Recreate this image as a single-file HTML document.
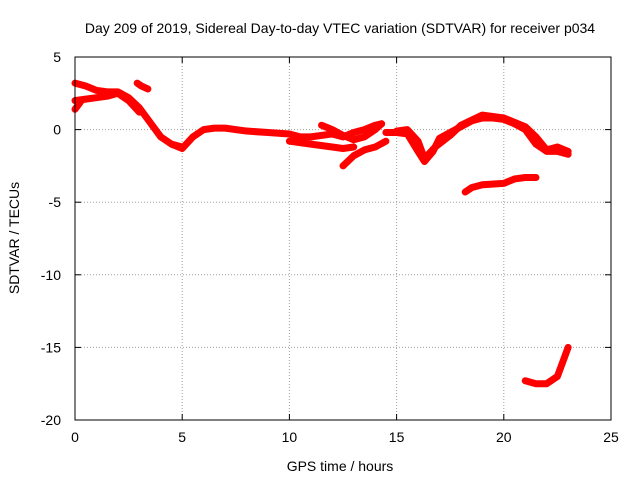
<!DOCTYPE html>
<html><head><meta charset="utf-8"><style>
body{margin:0;background:#fff;}
svg{display:block;font-family:"Liberation Sans",sans-serif;}
</style></head><body>
<svg id="c" width="640" height="480">
<text x="340" y="33" text-anchor="middle" font-size="14">Day 209 of 2019, Sidereal Day-to-day VTEC variation (SDTVAR) for receiver p034</text>
<text x="340" y="471" text-anchor="middle" font-size="14">GPS time / hours</text>
<text x="19" y="238" text-anchor="middle" font-size="14" transform="rotate(-90 19 238)">SDTVAR / TECUs</text>
<g id="grid"></g><g id="data"></g>
<rect x="75" y="57" width="536" height="363" fill="none" stroke="#000"/>
<g id="ticks"></g>
</svg>
<script>
const xTicks=[0,5,10,15,20,25];
const yTicks=[5,0,-5,-10,-15,-20];
const seriesT=[
[0,0.5,1,1.5,2,2.5,3,3.5,4,4.5,5],
[0,0.5,1,1.5,2,2.5,3],
[0,0.15,0.3],
[2.9,3.1,3.4],
[4.5,5,5.5,6,6.5,7,8,9,10,10.5,11,12,12.5,13,13.5,14,14.3],
[10,11,12,12.5,13],
[12.5,13,13.5,14,14.5],
[11.5,12,12.5,13,13.5,14,14.3],
[14.5,15,15.5,16,16.3,16.7,17,17.5,18,18.5,19,19.5,20,20.5,21,21.5,22,22.5,23],
[15,15.5,16,16.3,16.8,17.5,18,19,20,21,21.5,22,22.5,23],
[18.2,18.5,19,20,20.5,21,21.5],
[21,21.5,22,22.5,23]];
const seriesV=[
[3.2,3.0,2.7,2.6,2.6,2.2,1.5,0.5,-0.5,-1.0,-1.2],
[2.0,2.1,2.2,2.3,2.5,2.0,1.2],
[1.4,1.7,2.0],
[3.2,3.0,2.8],
[-1.0,-1.3,-0.5,0,0.1,0.1,-0.1,-0.2,-0.3,-0.5,-0.5,-0.3,-0.5,-0.2,0,0.3,0.4],
[-0.8,-1.0,-1.2,-1.3,-1.2],
[-2.5,-1.8,-1.4,-1.2,-0.8],
[0.3,0,-0.4,-0.7,-0.5,0,0.4],
[-0.2,-0.2,-0.3,-1.5,-2.2,-1.5,-0.6,-0.2,0.2,0.6,0.8,0.8,0.7,0.4,0,-1.0,-1.5,-1.5,-1.7],
[-0.1,0.0,-0.8,-2.0,-1.2,-0.4,0.3,1.0,0.8,0.2,-0.5,-1.4,-1.2,-1.5],
[-4.3,-4.0,-3.8,-3.7,-3.4,-3.3,-3.3],
[-17.3,-17.5,-17.5,-17.0,-15.0]];
const X=t=>75+t*536/25, Y=v=>57+(5-v)*363/25;
const NS='http://www.w3.org/2000/svg';
const grid=document.getElementById('grid'),ticks=document.getElementById('ticks'),data=document.getElementById('data');
function mk(tag,at,p){const e=document.createElementNS(NS,tag);for(const k in at)e.setAttribute(k,at[k]);p.appendChild(e);return e;}
xTicks.forEach(t=>{
 if(t>0&&t<25){const g=mk('line',{x1:X(t),x2:X(t),y1:57,y2:420,stroke:'#a0a0a0','stroke-dasharray':'1,2'},grid);
 
 }
 mk('line',{x1:X(t),x2:X(t),y1:420,y2:414,stroke:'#000'},ticks);
 mk('line',{x1:X(t),x2:X(t),y1:57,y2:63,stroke:'#000'},ticks);
 const l=mk('text',{x:X(t),y:442,'text-anchor':'middle','font-size':14},ticks);l.textContent=t;
 
 
});
yTicks.forEach(v=>{
 if(v<5&&v>-20){const g=mk('line',{x1:75,x2:611,y1:Y(v),y2:Y(v),stroke:'#a0a0a0','stroke-dasharray':'1,2'},grid);
 
 }
 mk('line',{x1:75,x2:81,y1:Y(v),y2:Y(v),stroke:'#000'},ticks);
 mk('line',{x1:611,x2:605,y1:Y(v),y2:Y(v),stroke:'#000'},ticks);
 const l=mk('text',{x:61,y:Y(v)+5,'text-anchor':'end','font-size':14},ticks);l.textContent=v;
 
 
});
seriesT.forEach((ts,i)=>{
 const pts=ts.map((t,j)=>X(t)+','+Y(seriesV[i][j])).join(' ');
 const p=mk('polyline',{points:pts,fill:'none',stroke:'#ff0000','stroke-width':7,'stroke-linejoin':'round','stroke-linecap':'round'},data);
 
 
});
</script>
</body></html>
